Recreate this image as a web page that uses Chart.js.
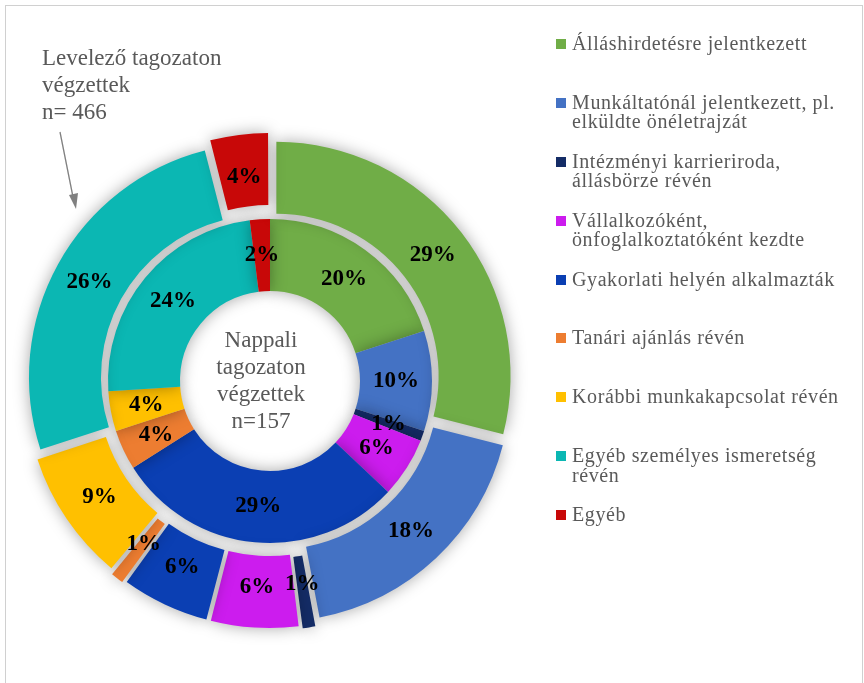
<!DOCTYPE html>
<html>
<head>
<meta charset="utf-8">
<script src="https://cdn.jsdelivr.net/npm/chart.js@4.4.1/dist/chart.umd.min.js"></script>
<style>
  html, body { margin: 0; padding: 0; background: #fff; }
  #wrap { position: relative; width: 864px; height: 683px; overflow: hidden; }
  #frame { position: absolute; left: 5px; top: 5px; width: 856px; height: 700px; border: 1px solid #d0d0d0; }
  #myChart { position: absolute; left: 0; top: 0; }
  .note { position: absolute; font-family: "Liberation Serif", "Times New Roman", serif; font-size: 23px; line-height: 27px; color: #595959; white-space: nowrap; }
  #outerNote { left: 42px; top: 44px; }
  #innerNote { left: 176px; top: 326px; width: 170px; text-align: center; }
  #legend { position: absolute; left: 556px; top: 34px; font-family: "Liberation Serif", "Times New Roman", serif; font-size: 20px; line-height: 19.5px; color: #595959; }
  .item { position: relative; height: 58.9px; white-space: nowrap; }
  .box { position: absolute; left: 0; top: 5px; width: 10px; height: 10px; }
  .txt { position: absolute; left: 16px; top: 0; letter-spacing: 0.6px; }
</style>
</head>
<body>
<div id="wrap">
  <div id="frame"></div>
  <canvas id="myChart" width="864" height="683"></canvas>
  <div class="note" id="outerNote">Levelező tagozaton<br>végzettek<br>n= 466</div>
  <div class="note" id="innerNote">Nappali<br>tagozaton<br>végzettek<br>n=157</div>
  <div id="legend"></div>
</div>
<script>
// kategóriák (víceřádkové popisky jako pole)
const categories = [
  ['Álláshirdetésre jelentkezett'],
  ['Munkáltatónál jelentkezett, pl.', 'elküldte önéletrajzát'],
  ['Intézményi karrieriroda,', 'állásbörze révén'],
  ['Vállalkozóként,', 'önfoglalkoztatóként kezdte'],
  ['Gyakorlati helyén alkalmazták'],
  ['Tanári ajánlás révén'],
  ['Korábbi munkakapcsolat révén'],
  ['Egyéb személyes ismeretség', 'révén'],
  ['Egyéb']
];
const levelezo = [29, 18, 1, 6, 6, 1, 9, 26, 4];   // vnější kruh, n=466
const nappali = [20, 10, 1, 6, 29, 4, 4, 24, 2];   // vnitřní kruh, n=157
const colors = ['#70AD47', '#4472C4', '#142C66', '#CC1CEE', '#0B3FB3', '#ED7D31', '#FFC000', '#0BB7B3', '#C80808'];

// legenda
const legend = document.getElementById('legend');
categories.forEach((lines, i) => {
  const item = document.createElement('div');
  item.className = 'item';
  item.innerHTML = `<div class="box" style="background:${colors[i]}"></div><div class="txt">${lines.join('<br>')}</div>`;
  legend.appendChild(item);
});

const shadowPlugin = {
  id: 'shadow',
  beforeDatasetsDraw(chart) {
    const ctx = chart.ctx;
    ctx.save();
    ctx.shadowColor = 'rgba(0,0,0,0.35)';
    ctx.shadowBlur = 16;
  },
  afterDatasetsDraw(chart) {
    chart.ctx.restore();
  }
};

const labelPlugin = {
  id: 'pctLabels',
  afterDraw(chart) {
    const ctx = chart.ctx;
    ctx.save();
    ctx.font = 'bold 23px "Liberation Serif", "Times New Roman", serif';
    ctx.fillStyle = '#000';
    ctx.textAlign = 'center';
    ctx.textBaseline = 'middle';
    chart.data.datasets.forEach((ds, di) => {
      const meta = chart.getDatasetMeta(di);
      meta.data.forEach((arc, i) => {
        const mid = (arc.startAngle + arc.endAngle) / 2;
        const r = (arc.innerRadius + arc.outerRadius) / 2 + (arc.options.offset || 0) / 4;
        ctx.fillText(ds.data[i] + '%', arc.x + Math.cos(mid) * r, arc.y + Math.sin(mid) * r);
      });
    });
    ctx.restore();

    // šipka k vnějšímu kruhu
    ctx.save();
    ctx.strokeStyle = '#808080';
    ctx.fillStyle = '#808080';
    ctx.lineWidth = 1.3;
    ctx.beginPath();
    ctx.moveTo(60, 132);
    ctx.lineTo(73, 197);
    ctx.stroke();
    ctx.beginPath();
    ctx.moveTo(76, 209);
    ctx.lineTo(69, 195);
    ctx.lineTo(78, 193);
    ctx.closePath();
    ctx.fill();
    ctx.restore();
  }
};

const ctx = document.getElementById('myChart');

new Chart(ctx, {
  type: 'doughnut',
  data: {
    labels: categories,
    datasets: [
      {
        label: 'Levelező tagozaton végzettek',
        data: levelezo,
        backgroundColor: colors,
        borderWidth: 0,
        offset: 32
      },
      {
        label: 'Nappali tagozaton végzettek',
        data: nappali,
        backgroundColor: colors,
        borderWidth: 0,
        offset: 0
      }
    ]
  },
  options: {
    responsive: false,
    animation: false,
    events: [],
    radius: 234,
    cutout: '38.46%',
    layout: { padding: { left: 0, right: 324, top: 79, bottom: 0 } },
    plugins: {
      legend: { display: false },
      tooltip: { enabled: false }
    }
  },
  plugins: [shadowPlugin, labelPlugin]
});
</script>
</body>
</html>
